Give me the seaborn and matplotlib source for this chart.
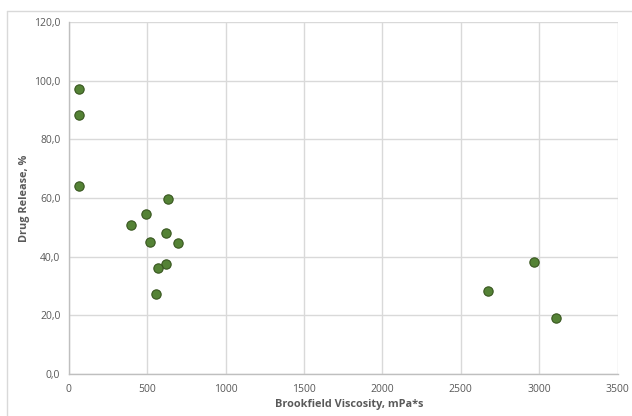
import seaborn as sns
import matplotlib.pyplot as plt
import pandas as pd
from matplotlib.lines import Line2D
from matplotlib.ticker import FuncFormatter

# valori
viscosity = [64, 64, 64, 634, 494, 397, 618, 516, 696, 622, 567, 558, 2970, 2671, 3108]
release = [97.3, 88.3, 64.1, 59.7, 54.4, 50.7, 48.1, 44.9, 44.8, 37.6, 36.1, 27.2, 38.3, 28.2, 19.0]

x_ticks = [0, 500, 1000, 1500, 2000, 2500, 3000, 3500]
y_ticks = [0, 20, 40, 60, 80, 100, 120]

data = pd.DataFrame({"visc": viscosity, "rel": release})

sns.set_style("white")
plt.rcParams["font.family"] = ["Open Sans", "DejaVu Sans"]

fig = plt.figure(figsize=(6.32, 4.16), dpi=100)
ax = fig.add_axes([68.7 / 632, 1 - 374 / 416, (617.5 - 68.7) / 632, (374 - 22) / 416])

sns.scatterplot(data=data, x="visc", y="rel", ax=ax, s=45,
                color="#548235", edgecolor="#38561f", linewidth=0.8, zorder=3)

ax.set_xlim(0, 3500)
ax.set_ylim(0, 120)
ax.set_xticks(x_ticks)
ax.set_yticks(y_ticks)
ax.yaxis.set_major_formatter(FuncFormatter(lambda v, p: f"{v:.1f}".replace(".", ",")))
ax.grid(True, color="#d9d9d9", linewidth=1)
ax.set_axisbelow(True)

for side in ["top", "right"]:
    ax.spines[side].set_visible(False)
for side in ["left", "bottom"]:
    ax.spines[side].set_color("#bfbfbf")
    ax.spines[side].set_linewidth(1)

ax.tick_params(axis="x", length=0, labelsize=7.5, labelcolor="#595959", pad=7)
ax.tick_params(axis="y", length=0, labelsize=7.5, labelcolor="#595959", pad=6)
ax.set_xlabel("Brookfield Viscosity, mPa*s", fontsize=7.8, fontweight="bold", color="#595959")
ax.set_ylabel("Drug Release, %", fontsize=7.8, fontweight="bold", color="#595959")
ax.xaxis.label.set_va("center")
ax.yaxis.label.set_va("center")
ax.xaxis.set_label_coords((349 - 68.7) / 548.8, (374 - 404) / 352)
ax.yaxis.set_label_coords((25 - 68.7) / 548.8, 0.5)

# cornice del grafico (stile Excel)
fig.add_artist(Line2D([7 / 632, 7 / 632], [0, 1 - 11 / 416], color="#d9d9d9", lw=1))
fig.add_artist(Line2D([7 / 632, 1], [1 - 11 / 416, 1 - 11 / 416], color="#d9d9d9", lw=1))

fig.savefig("out.png", dpi=100)
